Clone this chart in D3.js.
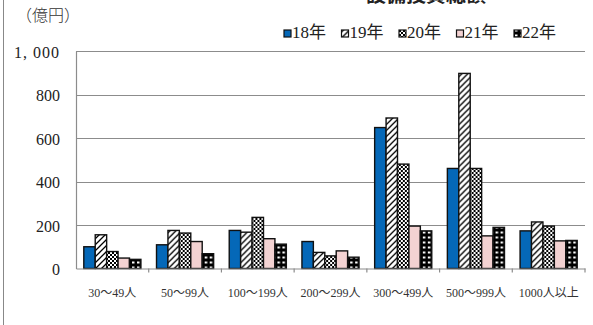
<!DOCTYPE html>
<html>
<head>
<meta charset="utf-8">
<script src="https://cdn.jsdelivr.net/npm/d3@7/dist/d3.min.js"></script>
<style>
  html, body { margin: 0; padding: 0; background: #fff; }
  svg { display: block; }
</style>
</head>
<body>
<svg id="chart" width="593" height="325"></svg>
<script>
// 従業員規模別の設備投資額（億円）
const categories = ["30～49人", "50～99人", "100～199人", "200～299人", "300～499人", "500～999人", "1000人以上"];
const years = ["18年", "19年", "20年", "21年", "22年"];
const values18 = [100, 109, 175, 124, 648, 460, 173];
const values19 = [155, 175, 167, 74, 692, 897, 214];
const values20 = [78, 163, 235, 58, 480, 460, 195];
const values21 = [48, 124, 137, 81, 195, 150, 127];
const values22 = [42, 68, 112, 52, 173, 189, 129];
const yTicks = [0, 200, 400, 600, 800, 1000];
const yTickLabels = ["0", "200", "400", "600", "800", "1, 000"];
const chartTitle = "設備投資総額";
const unitLabel = "（億円）";

const series = [values18, values19, values20, values21, values22];

const SERIF = "'Liberation Serif', 'Times New Roman', 'DejaVu Serif', 'Noto Sans CJK JP', serif";

const svg = d3.select("#chart");
const defs = svg.append("defs");

// 塗りパターン
// 19年: 右上がり斜線
const p19 = defs.append("pattern").attr("id", "p19").attr("patternUnits", "userSpaceOnUse")
  .attr("width", 6).attr("height", 6);
p19.append("rect").attr("width", 6).attr("height", 6).attr("fill", "#fff");
p19.append("path").attr("d", "M-1.5,1.5 L1.5,-1.5 M0,6 L6,0 M4.5,7.5 L7.5,4.5")
  .attr("stroke", "#000").attr("stroke-width", 1.3);
// 20年: 細かい市松
const p20 = defs.append("pattern").attr("id", "p20").attr("patternUnits", "userSpaceOnUse")
  .attr("width", 4).attr("height", 4);
p20.append("rect").attr("width", 4).attr("height", 4).attr("fill", "#fff");
p20.append("rect").attr("width", 2).attr("height", 2).attr("fill", "#000");
p20.append("rect").attr("x", 2).attr("y", 2).attr("width", 2).attr("height", 2).attr("fill", "#000");
// 22年: 黒地に白の格子点
const p22 = defs.append("pattern").attr("id", "p22").attr("patternUnits", "userSpaceOnUse")
  .attr("width", 5).attr("height", 5);
p22.append("rect").attr("width", 5).attr("height", 5).attr("fill", "#000");
p22.append("rect").attr("x", 1).attr("y", 1.5).attr("width", 2.5).attr("height", 2).attr("fill", "#fff");

const fills = ["#0568b8", "url(#p19)", "url(#p20)", "#f3d2d2", "url(#p22)"];

const margin = { left: 76, right: 8, top: 51, bottom: 56.5 };
const W = 593, H = 325;

const x0 = d3.scaleBand().domain(categories).range([margin.left, W - margin.right]).padding(0);
const x1 = d3.scaleBand().domain(years).range([7.8, x0.bandwidth() - 7.8]).padding(0);
const y = d3.scaleLinear().domain([0, 1000]).range([H - margin.bottom, margin.top]);

// 外枠（左端）
svg.append("line").attr("x1", 3.5).attr("x2", 3.5).attr("y1", 0).attr("y2", H)
  .attr("stroke", "#888").attr("stroke-width", 1);

// タイトル（上端で切れている）
svg.append("text").attr("x", 426).attr("y", 1.5).attr("text-anchor", "middle")
  .attr("font-size", 20).attr("font-weight", "bold").attr("fill", "#222")
  .attr("font-family", "'Noto Sans CJK JP', sans-serif").text(chartTitle);

// 単位
svg.append("text").attr("x", 16).attr("y", 21).attr("font-size", 16).attr("fill", "#333")
  .attr("font-family", "'Noto Sans CJK JP', sans-serif").attr("font-weight", 300).text(unitLabel);

// 目盛線
svg.append("g").selectAll("line").data(yTicks.filter(d => d > 0)).join("line")
  .attr("x1", margin.left).attr("x2", W - margin.right)
  .attr("y1", d => Math.round(y(d)) + 0.5).attr("y2", d => Math.round(y(d)) + 0.5)
  .attr("stroke", "#8c8c8c").attr("stroke-width", 1.2);

// Y軸
const yAxis = d3.axisLeft(y).tickValues(yTicks).tickFormat((d, i) => yTickLabels[i]).tickSize(0).tickPadding(16);
const gy = svg.append("g").attr("transform", `translate(${margin.left},0)`).call(yAxis)
  .attr("font-family", SERIF);
gy.select(".domain").attr("stroke", "#8c8c8c").attr("stroke-width", 1.2);
gy.selectAll("text").attr("font-size", 16).attr("fill", "#222").attr("dy", "0.38em")
  .attr("letter-spacing", (d) => d >= 1000 ? 1 : 0);

// 棒
const groups = svg.append("g").selectAll("g").data(categories).join("g")
  .attr("transform", d => `translate(${x0(d)},0)`);
groups.selectAll("rect")
  .data((c, ci) => years.map((yr, si) => ({ yr, si, v: series[si][ci] })))
  .join("rect")
  .attr("x", d => x1(d.yr))
  .attr("width", x1.bandwidth())
  .attr("y", d => y(d.v))
  .attr("height", d => y(0) - y(d.v))
  .attr("fill", d => fills[d.si])
  .attr("stroke", "#111").attr("stroke-width", 1.4);

// X軸
const xAxis = d3.axisBottom(x0).tickSize(0).tickPadding(20);
const gx = svg.append("g").attr("transform", `translate(0,${y(0)})`).call(xAxis)
  .attr("font-family", SERIF);
gx.select(".domain").attr("stroke", "#8c8c8c").attr("stroke-width", 1.2);
gx.selectAll("text").attr("font-size", 12).attr("fill", "#333");
// 区切り目盛
gx.append("g").selectAll("line").data(categories.slice(1).concat(["end"])).join("line")
  .attr("x1", (d, i) => i < categories.length - 1 ? x0(d) : W - margin.right)
  .attr("x2", (d, i) => i < categories.length - 1 ? x0(d) : W - margin.right)
  .attr("y1", 0).attr("y2", 4).attr("stroke", "#8c8c8c").attr("stroke-width", 1.2);

// 凡例
const legend = svg.append("g").attr("transform", "translate(284,38)").attr("font-family", SERIF);
const items = legend.selectAll("g").data(years).join("g")
  .attr("transform", (d, i) => `translate(${i * 57.5},0)`);
items.append("rect").attr("x", 0).attr("y", -8).attr("width", 7).attr("height", 7)
  .attr("fill", (d, i) => fills[i]).attr("stroke", "#111").attr("stroke-width", 1.2);
items.append("text").attr("x", 8).attr("y", 0).attr("font-size", 17).attr("fill", "#222")
  .text(d => d);
</script>
</body>
</html>
